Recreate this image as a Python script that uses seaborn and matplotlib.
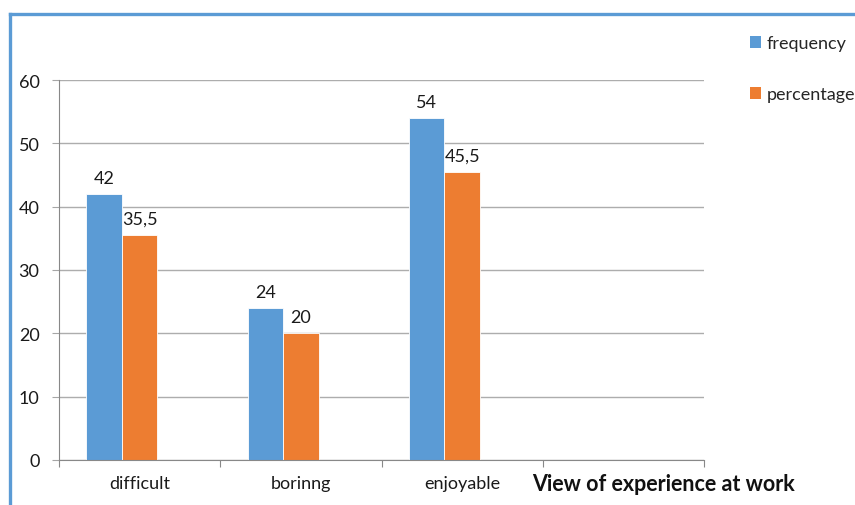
import matplotlib
matplotlib.use("Agg")
import matplotlib.pyplot as plt
import pandas as pd
import seaborn as sns
from matplotlib.patches import Patch
from matplotlib.lines import Line2D

# Data
categories = ['difficult', 'borinng', 'enjoyable', '']
frequency = [42, 24, 54]
percentage = [35.5, 20, 45.5]
series = ['frequency', 'percentage']
colors = ['#5B9BD5', '#ED7D31']
y_ticks = [0, 10, 20, 30, 40, 50, 60]

df = pd.DataFrame({
    'category': categories[:3] * 2,
    'series': ['frequency'] * 3 + ['percentage'] * 3,
    'value': frequency + percentage,
})

sns.set_style('white')
plt.rcParams['font.family'] = ['Lato', 'DejaVu Sans']
fs = 13

fig = plt.figure(figsize=(8.55, 5.06), dpi=100)
ax = fig.add_axes([59 / 855, 1 - 461 / 506, (704 - 59) / 855, (461 - 81) / 506])

# third (empty) hue level reserves a slot like the original
sns.barplot(data=df, x='category', y='value', hue='series', order=categories,
            hue_order=series + [' '], palette=colors + ['#FFFFFF'],
            width=0.66, dodge=True, saturation=1, legend=False,
            edgecolor='white', linewidth=0.6, ax=ax)

# data labels with comma decimal separator
for cont in ax.containers:
    labels = []
    for bar in cont:
        h = bar.get_height()
        if pd.isna(h) or h == 0:
            labels.append('')
        else:
            labels.append(('%g' % h).replace('.', ','))
    ax.bar_label(cont, labels=labels, padding=6, fontsize=fs, color='#1a1a1a')

ax.set_xlim(-0.5, 3.5)
ax.set_ylim(0, 60)
ax.set_yticks(y_ticks)
ax.set_yticklabels([str(t) for t in y_ticks], fontsize=fs, color='#1a1a1a')
ax.set_xticks([-0.5, 0.5, 1.5, 2.5, 3.5], minor=False)
ax.set_xticklabels([''] * 5)
ax.set_xticks([0, 1, 2, 3], minor=True)
ax.set_xticklabels(categories, minor=True, fontsize=fs, color='#1a1a1a')
ax.tick_params(axis='x', which='minor', length=0, pad=11)
ax.tick_params(axis='x', which='major', length=5, color='#888888', direction='out', bottom=True)
ax.tick_params(axis='y', length=5, color='#A6A6A6', direction='out', left=True, pad=9)

ax.yaxis.grid(True, color='#ADADAD', linewidth=1)
ax.set_axisbelow(True)
for side in ['top', 'right']:
    ax.spines[side].set_visible(False)
ax.spines['left'].set_color('#888888')
ax.spines['bottom'].set_color('#888888')
ax.set_xlabel('')
ax.set_ylabel('')

fig.text(663 / 855, 1 - 485 / 506, 'View of experience at work', fontsize=15.5,
         fontweight='bold', ha='center', va='center', color='#111111')

# legend
handles = [Patch(facecolor=c, edgecolor='none') for c in colors]
fig.legend(handles, series, loc='upper left', bbox_to_anchor=(743 / 855, 1 - 29 / 506),
           frameon=False, fontsize=fs, handlelength=0.62, handleheight=0.62,
           handletextpad=0.3, labelspacing=1.95, borderaxespad=0)

# blue frame on top and left
fig.add_artist(Line2D([9.5 / 855, 9.5 / 855], [0, 1 - 14.5 / 506], color='#5B9BD5',
                      linewidth=2.4, transform=fig.transFigure, solid_capstyle='projecting'))
fig.add_artist(Line2D([9.5 / 855, 1], [1 - 14.5 / 506, 1 - 14.5 / 506], color='#5B9BD5',
                      linewidth=2.4, transform=fig.transFigure, solid_capstyle='projecting'))

fig.savefig('out.png', dpi=100)
